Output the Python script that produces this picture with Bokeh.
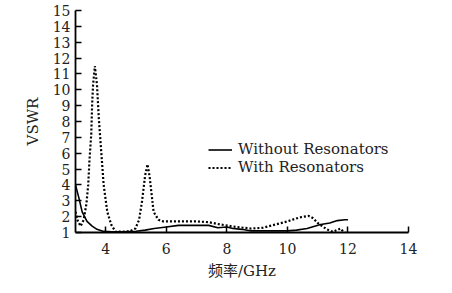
from bokeh.plotting import figure
from bokeh.models import Range1d, FixedTicker, Legend, LegendItem
from bokeh.embed import file_html
from bokeh.resources import INLINE

# Data
freq_without = [3.0, 3.11, 3.22, 3.38, 3.55, 3.71, 3.93, 4.2, 4.6, 5.0, 5.3, 5.6, 6.0,
                6.4, 7.0, 7.4, 7.7, 8.0, 8.2, 8.5, 8.8, 9.5, 10.0, 10.3, 10.65, 10.9,
                11.1, 11.4, 11.65, 11.9, 12.0]
vswr_without = [4.0, 3.2, 2.3, 1.7, 1.4, 1.2, 1.07, 1.05, 1.05, 1.08, 1.15, 1.25, 1.35,
                1.45, 1.45, 1.45, 1.3, 1.35, 1.25, 1.2, 1.1, 1.1, 1.1, 1.15, 1.25, 1.4,
                1.5, 1.6, 1.75, 1.8, 1.8]

freq_with = [3.0, 3.08, 3.17, 3.27, 3.36, 3.42, 3.46, 3.52, 3.55, 3.58, 3.64, 3.71, 3.77,
             3.85, 3.93, 4.05, 4.18, 4.32, 4.5, 4.8, 4.98, 5.1, 5.2, 5.3, 5.38, 5.45,
             5.58, 5.74, 5.9, 6.5, 7.0, 7.4, 7.8, 8.3, 8.8, 9.2, 9.5, 10.0, 10.4, 10.7,
             10.85, 11.0, 11.3, 11.5, 11.75, 11.85, 11.9]
vswr_with = [2.3, 1.7, 1.4, 1.8, 2.8, 4.0, 5.5, 7.2, 9.1, 10.3, 11.5, 10.3, 8.2,
             6.1, 4.0, 2.3, 1.5, 1.05, 1.05, 1.08, 1.25, 1.8, 3.0, 4.6, 5.3, 4.5,
             2.3, 1.8, 1.7, 1.7, 1.7, 1.65, 1.5, 1.35, 1.25, 1.3, 1.45, 1.7, 1.95, 2.05,
             1.9, 1.6, 1.2, 1.05, 1.25, 1.05, 1.0]

x_ticks = [4, 6, 8, 10, 12, 14]
y_ticks = list(range(1, 16))
x_label = "频率/GHz"
y_label = "VSWR"
series_names = ["Without Resonators", "With Resonators"]

SERIF = "DejaVu Serif, Noto Sans CJK SC"

p = figure(width=452, height=293, output_backend="svg", toolbar_location=None,
           x_range=Range1d(3, 14), y_range=Range1d(1, 15),
           min_border_left=75, min_border_right=44, min_border_top=10,
           min_border_bottom=61)
p.outline_line_color = None
p.xgrid.grid_line_color = None
p.ygrid.grid_line_color = None
p.background_fill_color = "white"

r1 = p.line(freq_without, vswr_without, line_color="black", line_width=1.6)
r2 = p.line(freq_with, vswr_with, line_color="black", line_width=2.2, line_dash="2 2")

for ax in (p.xaxis[0], p.yaxis[0]):
    ax.axis_line_width = 1.8
    ax.axis_line_color = "black"
    ax.major_tick_in = 6
    ax.major_tick_out = 0
    ax.major_tick_line_width = 1.5
    ax.minor_tick_in = 0
    ax.minor_tick_out = 0
    ax.major_label_text_font = SERIF
    ax.major_label_text_font_size = "14px"
    ax.major_label_text_color = "#222222"
    ax.axis_label_text_font = SERIF
    ax.axis_label_text_font_size = "15px"
    ax.axis_label_text_font_style = "normal"
    ax.axis_label_text_color = "#222222"

p.xaxis.ticker = FixedTicker(ticks=x_ticks)
p.yaxis.ticker = FixedTicker(ticks=y_ticks)
p.xaxis.axis_label = x_label
p.yaxis.axis_label = y_label
p.xaxis.major_label_standoff = 10
p.yaxis.major_label_standoff = 5
p.xaxis.axis_label_standoff = 5
p.yaxis.axis_label_standoff = 8

legend = Legend(items=[LegendItem(label=series_names[0], renderers=[r1]),
                       LegendItem(label=series_names[1], renderers=[r2])],
                location=(133, 56))
legend.padding = 0
legend.margin = 0
legend.spacing = 0
legend.label_height = 15
legend.glyph_height = 15
legend.glyph_width = 24
legend.label_standoff = 6
legend.background_fill_alpha = 0
legend.border_line_alpha = 0
legend.label_text_font = SERIF
legend.label_text_font_size = "15px"
legend.label_text_color = "#222222"
p.add_layout(legend, "center")

open("out.html", "w").write(file_html(p, INLINE))
